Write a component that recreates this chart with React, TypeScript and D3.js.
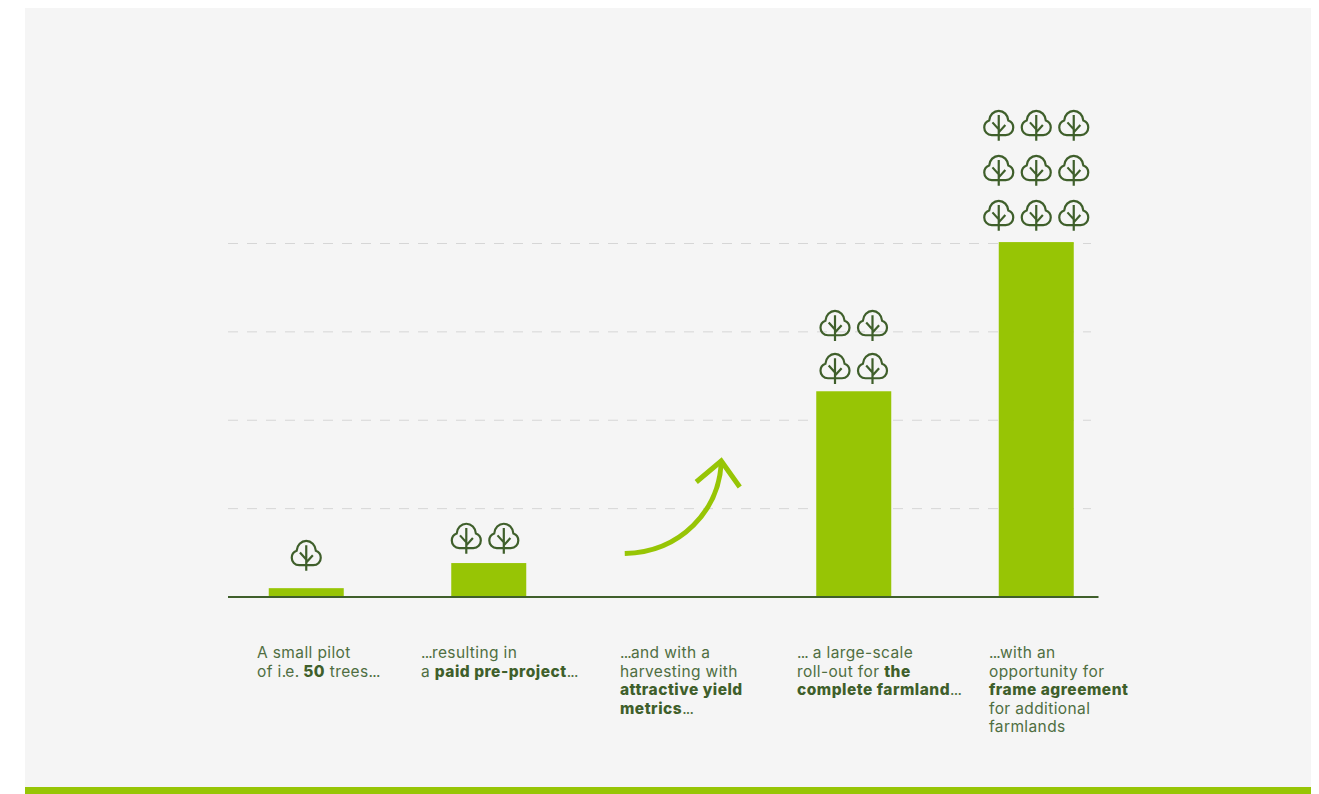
import React from "react";
import * as d3 from "d3";

const stages = ["pilot", "pre-project", "yield", "roll-out", "frame"];
const barValues = [2.5, 9.6, 0, 58.2, 100.4];
const treeCounts = [1, 2, 0, 4, 9];
const gridValues = [25, 50, 75, 100];

// Each caption line is a list of [text, isBold] runs.
type Run = [string, boolean];
const captions: Run[][][] = [
  [
    [["A small pilot", false]],
    [["of i.e. ", false], ["50", true], [" trees...", false]],
  ],
  [
    [["...resulting in", false]],
    [["a ", false], ["paid pre-project", true], ["...", false]],
  ],
  [
    [["...and with a", false]],
    [["harvesting with", false]],
    [["attractive yield", true]],
    [["metrics", true], ["...", false]],
  ],
  [
    [["... a large-scale", false]],
    [["roll-out for ", false], ["the", true]],
    [["complete farmland", true], ["...", false]],
  ],
  [
    [["...with an", false]],
    [["opportunity for", false]],
    [["frame agreement", true]],
    [["for additional", false]],
    [["farmlands", false]],
  ],
];

const LIME = "#97c505";
const DARK = "#3f5f2b";
const TEXT = "#4f6e41";
const FONT = "Inter, sans-serif";

const W = 1319;
const H = 794;
const BASE_Y = 597;

const x = d3
  .scalePoint<string>()
  .domain(stages)
  .range([306.25, 1036.25]);
const y = d3.scaleLinear().domain([0, 100]).range([BASE_Y, 243.5]);

const BAR_W = 75;
const TREE_STEP = 37.5;

// Per-bar layout of the tree pictograms: columns, row pitch, lift over the bar, sideways nudge.
const treeColumns = [1, 2, 1, 2, 3];
const treeRowStep = [0, 0, 0, 43, 45];
const treeLift = [33, 25, 0, 23, 27];
const treeNudge = [0, -3.7, 0, 0, 0];

// Left edge of each caption.
const captionX = [257, 421, 620, 797, 989];
const captionY = [658, 677, 695, 714, 732];

function Tree({ cx, cy }: { cx: number; cy: number }) {
  // Three-lobed crown with a flat base that the trunk crosses.
  const crown =
    "M0,10H-7C-11.5,10 -14.5,6.5 -14.5,2.5C-14.5,-1 -12.3,-3.5 -9.6,-4.5" +
    "C-9.3,-10 -5,-14.3 0,-14.3C5,-14.3 9.3,-10 9.6,-4.5" +
    "C12.3,-3.5 14.5,-1 14.5,2.5C14.5,6.5 11.5,10 7,10Z";
  return (
    <g
      transform={`translate(${cx},${cy})`}
      fill="none"
      stroke={DARK}
      strokeWidth={2.2}
    >
      <path d={crown} />
      <path d="M0,-10V15.7M-6.3,-2.7L0,4.3M6.6,0L0,7.3" />
    </g>
  );
}

// Splits a run so its dots can be set tighter than the surrounding letters.
function CaptionRun({ text, bold }: { text: string; bold: boolean }) {
  const parts = text.split(/(\.+)/).filter((p) => p.length > 0);
  return (
    <tspan fontWeight={bold ? 800 : 400} fill={bold ? DARK : TEXT}>
      {parts.map((p, i) => (
        <tspan key={i} letterSpacing={p[0] === "." ? -0.8 : bold ? 0.5 : 0.38}>
          {p}
        </tspan>
      ))}
    </tspan>
  );
}

export default function App() {
  const arrowX = x("yield")!;
  const arrow = d3.path();
  arrow.moveTo(arrowX - 46.5, 553.5);
  arrow.bezierCurveTo(
    arrowX + 10,
    552,
    arrowX + 48,
    510,
    arrowX + 50,
    462
  );

  return (
    <svg
      width={W}
      height={H}
      viewBox={`0 0 ${W} ${H}`}
      style={{ position: "absolute", left: 0, top: 0, display: "block" }}
    >
      <rect x={0} y={0} width={W} height={H} fill="#ffffff" />
      <rect x={25} y={8} width={1286} height={786} fill="#f5f5f5" />
      <rect x={25} y={787} width={1286} height={7} fill={LIME} />

      {gridValues.map((v) => (
        <line
          key={v}
          x1={228}
          x2={1091}
          y1={y(v)}
          y2={y(v)}
          stroke="#d6d6d6"
          strokeWidth={1}
          strokeDasharray="10 9"
        />
      ))}

      {stages.map((s, i) =>
        barValues[i] > 0 ? (
          <rect
            key={s}
            x={x(s)! - BAR_W / 2}
            y={y(barValues[i])}
            width={BAR_W}
            height={BASE_Y - y(barValues[i])}
            fill={LIME}
          />
        ) : null
      )}

      <line x1={228} x2={1098.5} y1={BASE_Y} y2={BASE_Y} stroke={DARK} strokeWidth={2} />

      {stages.map((s, i) => {
        const cols = treeColumns[i];
        const rows = d3.range(treeCounts[i]).map((k) => ({
          col: k % cols,
          row: Math.floor(k / cols),
        }));
        return rows.map(({ col, row }) => (
          <Tree
            key={`${s}-${row}-${col}`}
            cx={x(s)! + treeNudge[i] + (col - (cols - 1) / 2) * TREE_STEP}
            cy={y(barValues[i]) - treeLift[i] - row * treeRowStep[i]}
          />
        ));
      })}

      <path d={arrow.toString()} fill="none" stroke={LIME} strokeWidth={5} />
      <path
        d={`M${arrowX + 25},482L${arrowX + 50},461L${arrowX + 68.5},487`}
        fill="none"
        stroke={LIME}
        strokeWidth={5}
      />

      {captions.map((lines, i) => (
        <text key={i} fontFamily={FONT} fontSize={15.5} fill={TEXT}>
          {lines.map((runs, j) => (
            <tspan key={j} x={captionX[i]} y={captionY[j]}>
              {runs.map(([t, bold], k) => (
                <CaptionRun key={k} text={t} bold={bold} />
              ))}
            </tspan>
          ))}
        </text>
      ))}
    </svg>
  );
}
